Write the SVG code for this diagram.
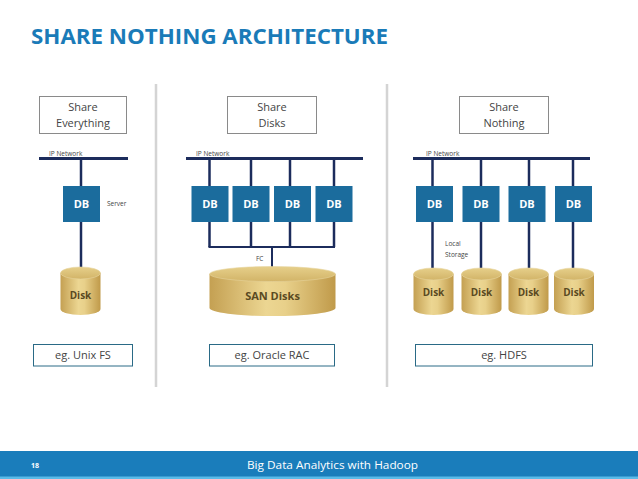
<svg xmlns="http://www.w3.org/2000/svg" width="638" height="479" viewBox="0 0 638 479">
<defs>
<linearGradient id="gold" x1="0" y1="0" x2="1" y2="0">
<stop offset="0" stop-color="#c4a052"/>
<stop offset="0.45" stop-color="#ecd692"/>
<stop offset="0.6" stop-color="#e8d08a"/>
<stop offset="1" stop-color="#c09a4a"/>
</linearGradient>
<linearGradient id="goldtop" x1="0" y1="0" x2="0" y2="1">
<stop offset="0" stop-color="#e6cf8a"/>
<stop offset="1" stop-color="#d2b468"/>
</linearGradient>
<style>
.title{font-family:"Open Sans","Liberation Sans",sans-serif;font-weight:bold;font-size:22px;fill:#1a7bb8}
.lbl{font-family:"Open Sans","Liberation Sans",sans-serif;font-size:11px;fill:#444;text-anchor:middle}
.sm{font-family:"Open Sans","Liberation Sans",sans-serif;font-size:6.5px;fill:#444}
.db rect{fill:#1b6c9d}
.db text{font-family:"Open Sans","Liberation Sans",sans-serif;font-weight:bold;font-size:11px;fill:#fff;text-anchor:middle}
.hdr{fill:#fff;stroke:#8a8a8a;stroke-width:1}
.eg{fill:#fff;stroke:#2a6a86;stroke-width:1}
.net{stroke:#1c2c5c;stroke-width:3;fill:none}
.link{stroke:#1c2c5c;stroke-width:2.5;fill:none}
.fc{stroke:#1c2c5c;stroke-width:2;fill:none}
.div{stroke:#d4d4d4;stroke-width:2.5}
.body{fill:url(#gold)}
.top{fill:url(#goldtop);stroke:#e6d49c;stroke-width:0.6}
.dtxt{font-family:"Open Sans","Liberation Sans",sans-serif;font-weight:bold;font-size:10px;fill:#5a4a22;text-anchor:middle}
.foot{font-family:"Open Sans","Liberation Sans",sans-serif;font-size:10.5px;fill:#fff}
</style>
</defs>
<rect width="638" height="479" fill="#fff"/>
<text class="title" x="31" y="44" textLength="357" lengthAdjust="spacingAndGlyphs">SHARE NOTHING ARCHITECTURE</text>

<line class="div" x1="156" y1="84" x2="156" y2="387"/>
<line class="div" x1="387" y1="84" x2="387" y2="387"/>

<g id="connectors">
<line class="net" x1="39" y1="158.5" x2="128" y2="158.5"/>
<line class="link" x1="81" y1="158" x2="81" y2="268"/>
<line class="net" x1="186" y1="158.5" x2="363" y2="158.5"/>
<line class="link" x1="209.5" y1="158" x2="209.5" y2="247"/>
<line class="link" x1="251" y1="158" x2="251" y2="247"/>
<line class="link" x1="290" y1="158" x2="290" y2="247"/>
<line class="link" x1="334" y1="158" x2="334" y2="247"/>
<line class="fc" x1="208.5" y1="247" x2="335" y2="247"/>
<line class="fc" x1="272" y1="247" x2="272" y2="268"/>
<line class="net" x1="413" y1="158.5" x2="590" y2="158.5"/>
<line class="link" x1="432.5" y1="158" x2="432.5" y2="268"/>
<line class="link" x1="481" y1="158" x2="481" y2="268"/>
<line class="link" x1="529" y1="158" x2="529" y2="268"/>
<line class="link" x1="573" y1="158" x2="573" y2="268"/>
</g>

<g id="hdr1"><rect class="hdr" x="39.5" y="96.5" width="87" height="37"/><text class="lbl" x="83" y="111">Share</text><text class="lbl" x="83" y="127">Everything</text></g>
<g id="hdr2"><rect class="hdr" x="227.5" y="96.5" width="89" height="37"/><text class="lbl" x="272" y="111">Share</text><text class="lbl" x="272" y="127">Disks</text></g>
<g id="hdr3"><rect class="hdr" x="459.5" y="96.5" width="89" height="37"/><text class="lbl" x="504" y="111">Share</text><text class="lbl" x="504" y="127">Nothing</text></g>

<text class="sm" x="49" y="156">IP Network</text>
<text class="sm" x="196" y="156">IP Network</text>
<text class="sm" x="426" y="156">IP Network</text>
<text class="sm" x="107" y="206">Server</text>
<text class="sm" x="256" y="261">FC</text>
<text class="sm" x="445" y="246">Local</text>
<text class="sm" x="445" y="257">Storage</text>

<g id="db1" class="db"><rect x="63" y="186" width="37" height="36"/><text x="81.5" y="208">DB</text></g>
<g id="db2" class="db"><rect x="191.5" y="186" width="37" height="36"/><text x="210" y="208">DB</text></g>
<g id="db3" class="db"><rect x="232.5" y="186" width="37" height="36"/><text x="251" y="208">DB</text></g>
<g id="db4" class="db"><rect x="274" y="186" width="37" height="36"/><text x="292.5" y="208">DB</text></g>
<g id="db5" class="db"><rect x="315.5" y="186" width="37" height="36"/><text x="334" y="208">DB</text></g>
<g id="db6" class="db"><rect x="416" y="186" width="37" height="36"/><text x="434.5" y="208">DB</text></g>
<g id="db7" class="db"><rect x="462.5" y="186" width="37" height="36"/><text x="481" y="208">DB</text></g>
<g id="db8" class="db"><rect x="508.5" y="186" width="37" height="36"/><text x="527" y="208">DB</text></g>
<g id="db9" class="db"><rect x="555" y="186" width="37" height="36"/><text x="573.5" y="208">DB</text></g>

<g id="disk1"><path class="body" d="M60.5,273 V309 A20,6 0 0 0 100.5,309 V273 Z"/><ellipse class="top" cx="80.5" cy="273" rx="20" ry="6"/><text class="dtxt" x="80.5" y="299">Disk</text></g>
<g id="san"><path class="body" d="M209.5,274 V308 A63,8 0 0 0 335.5,308 V274 Z"/><ellipse class="top" cx="272.5" cy="274" rx="63" ry="7.5"/><text class="dtxt" x="272.5" y="300" style="font-size:11px">SAN Disks</text></g>
<g id="disk2"><path class="body" d="M413.5,274 V309 A20,6 0 0 0 453.5,309 V274 Z"/><ellipse class="top" cx="433.5" cy="274" rx="20" ry="6"/><text class="dtxt" x="433.5" y="296">Disk</text></g>
<g id="disk3"><path class="body" d="M461.5,274 V309 A20,6 0 0 0 501.5,309 V274 Z"/><ellipse class="top" cx="481.5" cy="274" rx="20" ry="6"/><text class="dtxt" x="481.5" y="296">Disk</text></g>
<g id="disk4"><path class="body" d="M508.5,274 V309 A20,6 0 0 0 548.5,309 V274 Z"/><ellipse class="top" cx="528.5" cy="274" rx="20" ry="6"/><text class="dtxt" x="528.5" y="296">Disk</text></g>
<g id="disk5"><path class="body" d="M554,274 V309 A20,6 0 0 0 594,309 V274 Z"/><ellipse class="top" cx="574" cy="274" rx="20" ry="6"/><text class="dtxt" x="574" y="296">Disk</text></g>

<g id="eg1"><rect class="eg" x="33.5" y="344.5" width="99" height="21.5"/><text class="lbl" x="83" y="359">eg. Unix FS</text></g>
<g id="eg2"><rect class="eg" x="209.5" y="344.5" width="125" height="21.5"/><text class="lbl" x="272" y="359">eg. Oracle RAC</text></g>
<g id="eg3"><rect class="eg" x="415.5" y="344.5" width="177" height="21.5"/><text class="lbl" x="504" y="359">eg. HDFS</text></g>

<rect x="0" y="451" width="638" height="28" fill="#1a7dbb"/>
<rect x="0" y="476.5" width="638" height="2.5" fill="#5bbbe8"/>
<text class="foot" x="31" y="468" style="font-size:7px;font-weight:bold">18</text>
<text class="foot" x="247" y="469" textLength="171" lengthAdjust="spacingAndGlyphs">Big Data Analytics with Hadoop</text>
</svg>
